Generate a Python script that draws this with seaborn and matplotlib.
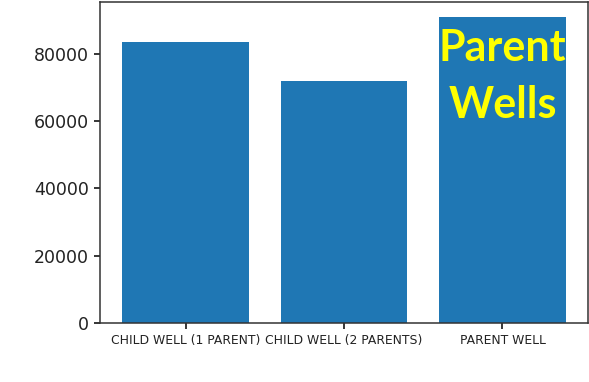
import matplotlib
matplotlib.use("Agg")
import pandas as pd
import seaborn as sns
from matplotlib import pyplot as plt
from matplotlib import transforms

categories = ["CHILD WELL (1 PARENT)", "CHILD WELL (2 PARENTS)", "PARENT WELL"]
values = [83700, 71900, 90900]
overlay_text = "Parent\nWells"


def main():
    df = pd.DataFrame({"well_type": categories, "production": values})

    fig = plt.figure(figsize=(5.89, 3.82), dpi=100)
    ax = fig.add_axes([100 / 589, 59 / 382, 488 / 589, 321 / 382])

    sns.barplot(
        data=df,
        x="well_type",
        y="production",
        color="#1f77b4",
        saturation=1,
        width=0.8,
        ax=ax,
    )
    ax.set_xlim(-0.54, 2.54)
    ax.set_ylim(0, max(values) * 1.05)
    ax.set(xlabel="", ylabel="")
    ax.tick_params(axis="y", labelsize=12.5, length=4.5, width=1.1, labelcolor="#222222")
    ax.tick_params(axis="x", labelsize=8.9, length=4.5, width=1.1, labelcolor="#222222")
    for s in ax.spines.values():
        s.set_color("#333333")
        s.set_linewidth(1.1)

    # overlay label on the parent well bar, one line at a time
    trans = transforms.blended_transform_factory(ax.transData, ax.transAxes)
    for line, ypos in zip(overlay_text.split("\n"), [0.816, 0.639]):
        ax.text(
            2,
            ypos,
            line,
            transform=trans,
            ha="center",
            va="baseline",
            color="yellow",
            fontsize=31,
            fontweight="bold",
            family="Lato",
        )

    fig.savefig("out.png", dpi=100)


if __name__ == "__main__":
    main()
